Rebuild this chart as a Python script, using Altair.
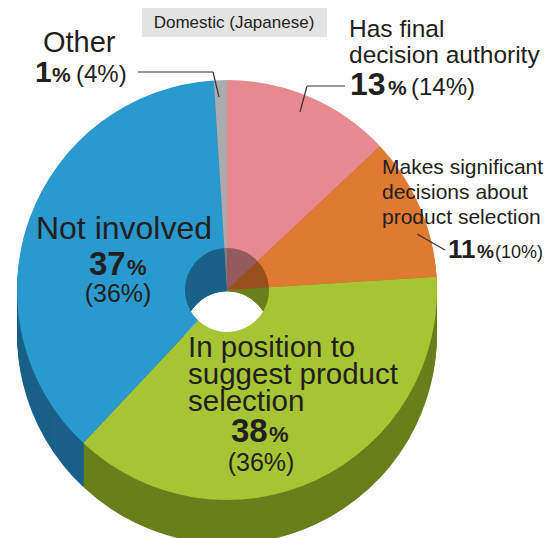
import altair as alt
import pandas as pd

# ---------------- data ----------------
categories = [
    "Has final decision authority",
    "Makes significant decisions about product selection",
    "In position to suggest product selection",
    "Not involved",
    "Other",
]
label_lines = [
    ["Has final", "decision authority"],
    ["Makes significant", "decisions about", "product selection"],
    ["In position to", "suggest product", "selection"],
    ["Not involved"],
    ["Other"],
]
share_now = [13, 11, 38, 37, 1]
share_prev = [14, 10, 36, 36, 4]
top_colors = ["#E78A8F", "#E07A32", "#A6C434", "#2A99CD", "#AAABAD"]
side_colors = ["#96595D", "#98501C", "#6A7F1B", "#1A6189", "#7B7C7E"]
panel_title = "Domestic (Japanese)"

df = pd.DataFrame({
    "category": categories,
    "share": share_now,
    "order": list(range(len(categories))),
    "top": top_colors,
    "side": side_colors,
})
dummy = pd.DataFrame({"k": [0]})

# ---------------- layout ----------------
CX, CY, R, HOLE, DEPTH = 219, 282, 210, 42, 44
FONT = "Liberation Sans"
INK = "#231F20"


def pie(cy, outer, inner=0, fill_field=None, fill_value=None, stroke=None):
    enc = dict(
        theta=alt.Theta("share:Q", stack=True),
        order=alt.Order("order:Q"),
        x=alt.value(CX),
        y=alt.value(cy),
    )
    if fill_field:
        enc["fill"] = alt.Fill(f"{fill_field}:N", scale=None, legend=None)
    kw = dict(outerRadius=outer, innerRadius=inner)
    if fill_value:
        kw["fill"] = fill_value
    if stroke:
        kw["stroke"] = stroke
        kw["strokeWidth"] = 1
    return alt.Chart(df).mark_arc(**kw).encode(**enc)


def txt(text, x, y, size, bold=False, align="left", line_height=None):
    kw = dict(text=text, fontSize=size, fontWeight="bold" if bold else "normal",
              align=align, baseline="alphabetic", font=FONT, color=INK)
    if line_height:
        kw["lineHeight"] = line_height
    return alt.Chart(dummy).mark_text(**kw).encode(x=alt.value(x), y=alt.value(y))


def seg(x1, y1, x2, y2):
    return alt.Chart(dummy).mark_rule(color="#333333", strokeWidth=1.2).encode(
        x=alt.value(x1), y=alt.value(y1), x2=alt.value(x2), y2=alt.value(y2))


layers = []
# side walls (extrusion)
for d in range(DEPTH, 0, -2):
    layers.append(pie(CY + d, R, fill_field="side"))
# inner wall of the hole
layers.append(pie(CY, HOLE, fill_field="side"))
# bottom opening of the hole
layers.append(pie(CY + DEPTH, HOLE, fill_value="white", stroke="white"))
# top face
layers.append(pie(CY, R, HOLE, fill_field="top"))

# title box
layers.append(alt.Chart(dummy).mark_rect(fill="#E3E3E3").encode(
    x=alt.value(134), x2=alt.value(319), y=alt.value(-5), y2=alt.value(29)))
layers.append(txt(panel_title, 226, 20, 17, align="center"))

# Other
layers.append(txt(label_lines[4][0], 35, 44, 29))
layers.append(txt(f"{share_now[4]}", 27, 74, 30, bold=True))
layers.append(txt("%", 44, 74, 21, bold=True))
layers.append(txt(f"({share_prev[4]}%)", 68, 74, 24))
layers.append(seg(130, 64, 205, 64))
layers.append(seg(205, 64, 211, 89))

# Has final decision authority
layers.append(txt(label_lines[0], 341, 29, 24.5, line_height=26))
layers.append(txt(f"{share_now[0]}", 342, 87, 32, bold=True))
layers.append(txt("%", 380, 87, 21, bold=True))
layers.append(txt(f"({share_prev[0]}%)", 403, 87, 24))
layers.append(seg(292, 104, 299, 78))
layers.append(seg(299, 78, 337, 78))

# Makes significant decisions
layers.append(txt(label_lines[1], 374, 166, 21, line_height=25))
layers.append(txt(f"{share_now[1]}", 440, 250, 26, bold=True))
layers.append(txt("%", 469, 250, 19, bold=True))
layers.append(txt(f"({share_prev[1]}%)", 487, 250, 18))
layers.append(seg(409, 226, 437, 242))

# Not involved
layers.append(txt(label_lines[3], 116, 231, 32, align="center"))
layers.append(txt(f"{share_now[3]}", 81, 267, 33, bold=True))
layers.append(txt("%", 119, 267, 22, bold=True))
layers.append(txt(f"({share_prev[3]}%)", 110, 294, 25, align="center"))

# In position to suggest
layers.append(txt(label_lines[2], 180, 349, 29.5, line_height=27))
layers.append(txt(f"{share_now[2]}", 223, 434, 33, bold=True))
layers.append(txt("%", 261, 434, 22, bold=True))
layers.append(txt(f"({share_prev[2]}%)", 253, 463, 25, align="center"))

chart = alt.layer(*layers).properties(
    width=536, height=530, padding=0,
    autosize=alt.AutoSizeParams(type="none"),
    background="white",
).configure_view(stroke=None)

chart.save("out.html", embed_options={"renderer": "svg", "actions": False})
